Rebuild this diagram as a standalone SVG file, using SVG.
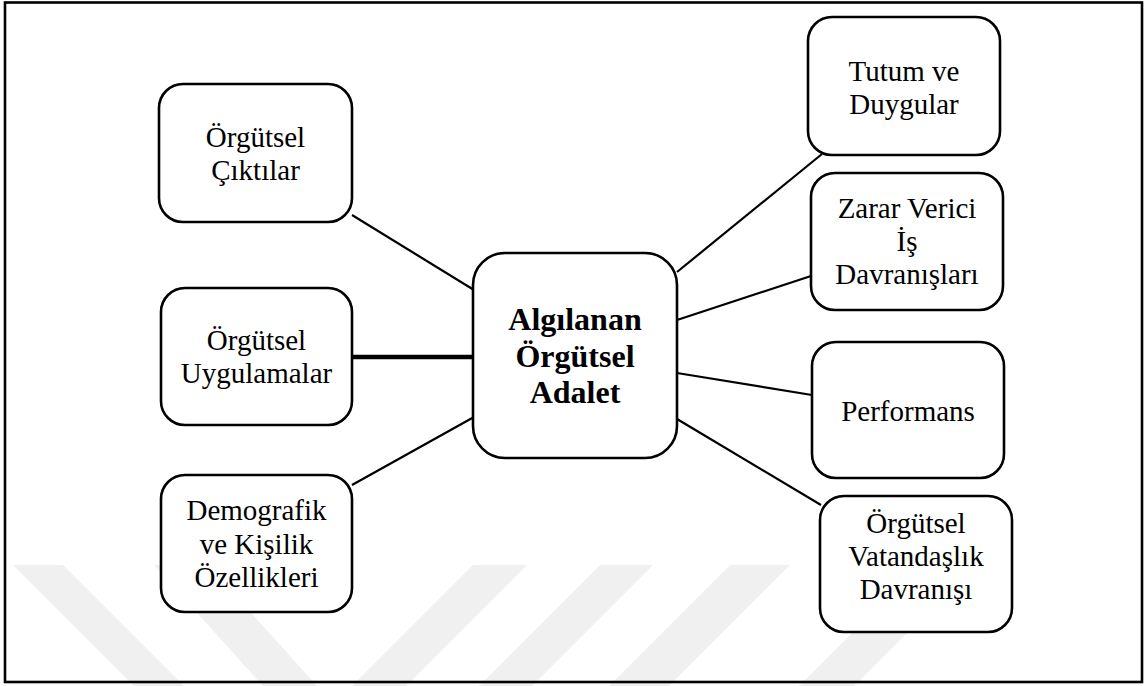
<svg xmlns="http://www.w3.org/2000/svg" width="1145" height="686" viewBox="0 0 1145 686">
<style>
.box{fill:#ffffff;stroke:#000000;stroke-width:2.6}
.t{font-family:"Liberation Serif","Times New Roman",serif;font-size:29px;fill:#000000;text-anchor:middle}
.tb{font-family:"Liberation Serif","Times New Roman",serif;font-size:32px;font-weight:bold;fill:#000000;text-anchor:middle}
.c{stroke:#000000;stroke-width:2.2;fill:none}
.wm{fill:#f0f0f0}
</style>
<rect x="0" y="0" width="1145" height="686" fill="#ffffff"/>
<g id="watermark">
<polygon class="wm" points="13,565 63,565 184,686 134,686"/>
<polygon class="wm" points="154,565 208,565 317,686 263,686"/>
<polygon class="wm" points="473,565 527,565 406,686 352,686"/>
<polygon class="wm" points="600,565 653,565 532,686 479,686"/>
<polygon class="wm" points="730,565 790,565 669,686 609,686"/>
<polygon class="wm" points="920,565 975,565 854,686 799,686"/>
</g>
<rect id="frame" x="5" y="2.5" width="1137" height="679.5" fill="none" stroke="#000000" stroke-width="2.6"/>
<g id="connectors">
<line class="c" x1="352" y1="215" x2="474" y2="290"/>
<line x1="352" y1="357" x2="474" y2="357" stroke="#000000" stroke-width="4.5"/>
<line class="c" x1="352" y1="485" x2="474" y2="417"/>
<line class="c" x1="677" y1="272" x2="822" y2="154"/>
<line class="c" x1="677" y1="320" x2="811" y2="276"/>
<line class="c" x1="677" y1="373" x2="812" y2="395"/>
<line class="c" x1="677" y1="419" x2="821" y2="505"/>
</g>
<g id="node-center">
<rect class="box" x="473" y="253" width="204" height="205" rx="32"/>
<text class="tb" x="575" y="330">Algılanan</text>
<text class="tb" x="575" y="367">Örgütsel</text>
<text class="tb" x="575" y="403">Adalet</text>
</g>
<g id="node-ciktilar">
<rect class="box" x="159" y="84" width="193" height="138" rx="24"/>
<text class="t" x="255.5" y="147">Örgütsel</text>
<text class="t" x="255.5" y="180">Çıktılar</text>
</g>
<g id="node-uygulamalar">
<rect class="box" x="161" y="288" width="191" height="137" rx="24"/>
<text class="t" x="256.5" y="350">Örgütsel</text>
<text class="t" x="256.5" y="383">Uygulamalar</text>
</g>
<g id="node-demografik">
<rect class="box" x="161" y="475" width="191" height="137" rx="24"/>
<text class="t" x="256.5" y="520">Demografik</text>
<text class="t" x="256.5" y="553.5">ve Kişilik</text>
<text class="t" x="256.5" y="587">Özellikleri</text>
</g>
<g id="node-tutum">
<rect class="box" x="808" y="17" width="192" height="138" rx="24"/>
<text class="t" x="904" y="81">Tutum ve</text>
<text class="t" x="904" y="114">Duygular</text>
</g>
<g id="node-zarar">
<rect class="box" x="811" y="173" width="192" height="137" rx="24"/>
<text class="t" x="907" y="218">Zarar Verici</text>
<text class="t" x="907" y="251">İş</text>
<text class="t" x="907" y="284">Davranışları</text>
</g>
<g id="node-performans">
<rect class="box" x="812" y="342" width="192" height="136" rx="24"/>
<text class="t" x="908" y="421">Performans</text>
</g>
<g id="node-vatandaslik">
<rect class="box" x="820" y="496" width="192" height="136" rx="24"/>
<text class="t" x="916" y="533">Örgütsel</text>
<text class="t" x="916" y="566">Vatandaşlık</text>
<text class="t" x="916" y="599">Davranışı</text>
</g>
</svg>
